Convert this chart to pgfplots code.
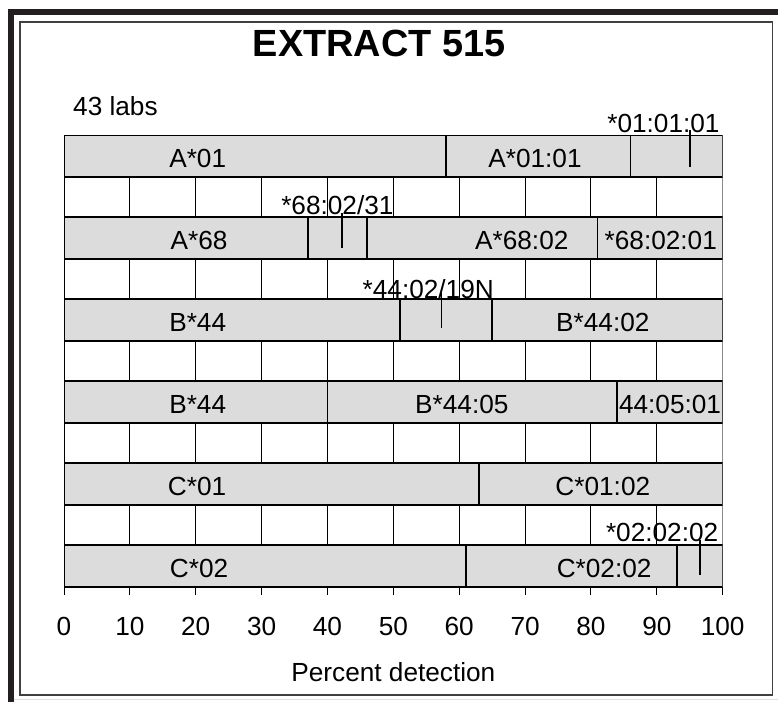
\documentclass[border=0pt]{standalone}
\usepackage{fontspec}
\setmainfont{Liberation Sans}
\usepackage{pgfplots}
\pgfplotsset{compat=1.18}
\definecolor{barfill}{HTML}{DCDCDC}
\definecolor{framedark}{HTML}{231F20}
\begin{document}
\begin{tikzpicture}[x=1bp,y=1bp,font=\fontsize{26.3}{30}\selectfont]
\useasboundingbox (0,0) rectangle (778,-702);
% frames
\fill[framedark] (8,-9) rectangle (14,-702);
\fill[framedark] (8,-9) rectangle (778,-15);
\draw[black!75, line width=1.2bp] (20,-22) rectangle (772.5,-695);
\draw[black!12, line width=1.5bp] (14,-699.5) -- (778,-699.5);
\node[anchor=base, font=\fontsize{38}{42}\selectfont\bfseries] at (379,-57) {EXTRACT 515};
\node[anchor=base west, inner sep=0pt] at (73,-116) {43 labs};

\begin{axis}[
  at={(64bp,-135bp)}, anchor=north west,
  scale only axis, width=658.7bp, height=452bp,
  xmin=0, xmax=100, ymin=-587, ymax=-135,
  xbar stacked, bar width=42,
  axis line style={draw=none},
  xtick={0,10,...,90}, extra x ticks={100},
  extra x tick style={major grid style={black!45, line width=1.5bp}},
  ytick=\empty,
  xmajorgrids, major grid style={black, line width=1bp},
  tick align=outside, major tick length=8bp, xtick pos=left,
  tick style={black, line width=1bp},
  /pgf/number format/assume math mode=true,
  xticklabel style={font=\fontsize{26.3}{30}\selectfont, anchor=base, yshift=-40bp},
  xlabel={Percent detection},
  xlabel style={at={(axis description cs:0.5,0)}, anchor=base, yshift=-94bp, font=\fontsize{26.3}{30}\selectfont},
]
\addplot[fill=barfill, draw=black, line width=1.8bp] coordinates {(58,-156) (37,-238) (51,-320) (40,-402) (63,-484) (61,-566)};
\addplot[fill=barfill, draw=black, line width=1.8bp] coordinates {(28,-156) (9,-238) (14,-320) (44,-402) (37,-484) (32,-566)};
\addplot[fill=barfill, draw=black, line width=1.8bp] coordinates {(14,-156) (35,-238) (35,-320) (16,-402) (0,-484) (7,-566)};
\addplot[fill=barfill, draw=black, line width=1.8bp] coordinates {(0,-156) (19,-238) (0,-320) (0,-402) (0,-484) (0,-566)};
\end{axis}

\begin{axis}[
  at={(64bp,-135bp)}, anchor=north west,
  scale only axis, width=658.7bp, height=452bp,
  xmin=0, xmax=100, ymin=-587, ymax=-135,
  hide axis, clip=false,
]
\addplot[black, line width=1.8bp, mark=none] coordinates {(95,-130) (95,-167)};
\addplot[black, line width=1.8bp, mark=none] coordinates {(42.2,-213) (42.2,-248)};
\addplot[black, line width=1.8bp, mark=none] coordinates {(57.3,-293) (57.3,-328)};
\addplot[black, line width=1.8bp, mark=none] coordinates {(96.5,-540) (96.5,-575)};
% labels in bars
\node[anchor=base] at (axis cs:20.3,-167) {A*01};
\node[anchor=base] at (axis cs:71.5,-167) {A*01:01};
\node[anchor=base] at (axis cs:91,-132) {*01:01:01};
\node[anchor=base] at (axis cs:20.5,-249) {A*68};
\node[anchor=base] at (axis cs:41.5,-214) {*68:02/31};
\node[anchor=base] at (axis cs:69.5,-249) {A*68:02};
\node[anchor=base] at (axis cs:90.6,-249) {*68:02:01};
\node[anchor=base] at (axis cs:20.3,-331) {B*44};
\node[anchor=base] at (axis cs:55.3,-298) {*44:02/19N};
\node[anchor=base] at (axis cs:81.8,-331) {B*44:02};
\node[anchor=base] at (axis cs:20.3,-413) {B*44};
\node[anchor=base] at (axis cs:60.4,-413) {B*44:05};
\node[anchor=base] at (axis cs:92,-413) {44:05:01};
\node[anchor=base] at (axis cs:20.2,-495) {C*01};
\node[anchor=base] at (axis cs:81.8,-495) {C*01:02};
\node[anchor=base] at (axis cs:20.5,-577) {C*02};
\node[anchor=base] at (axis cs:82,-577) {C*02:02};
\node[anchor=base] at (axis cs:90.8,-541) {*02:02:02};
\end{axis}
\end{tikzpicture}
\end{document}
